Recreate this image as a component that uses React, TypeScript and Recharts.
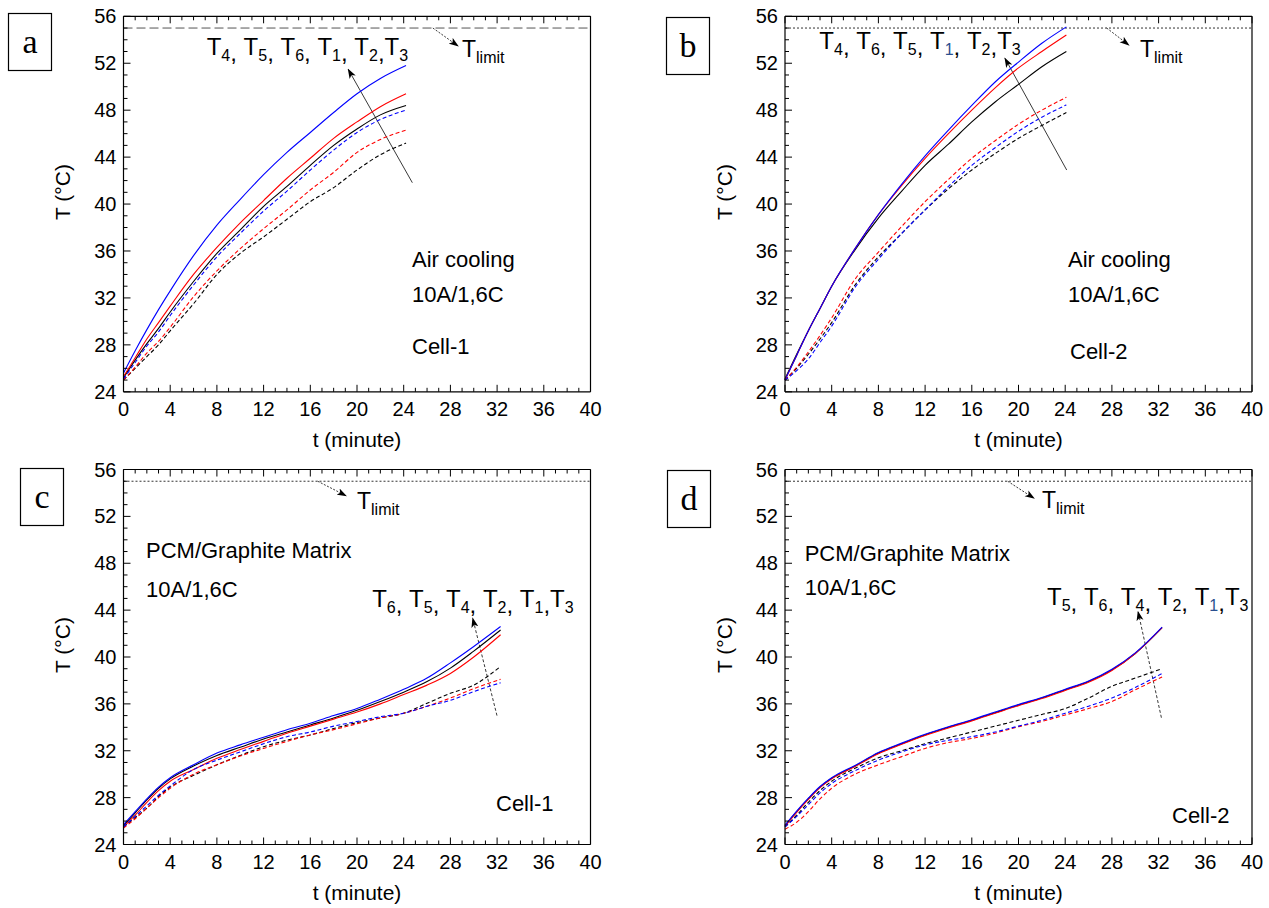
import React from 'react';
import { LineChart, Line, XAxis, YAxis, ReferenceLine } from 'recharts';

const FONT = "'Liberation Sans', Arial, Helvetica, sans-serif";
const SERIF = "'Liberation Serif', 'Times New Roman', serif";

// ---- axis ticks ----
const xTicks = Array.from({ length: 41 }, (_, i) => i);
const yTicks = Array.from({ length: 33 }, (_, i) => 24 + i);

// ---- Panel a: air cooling, cell-1 ----
const tA = [0, 1, 2, 3, 4, 6, 8, 10, 12, 14, 16, 18, 20, 22, 24.2];
const aT1 = [25.2, 26.7, 28.1, 29.4, 30.8, 33.4, 35.8, 37.8, 39.8, 41.5, 43.3, 45.0, 46.4, 47.6, 48.4];
const aT2 = [25.3, 26.9, 28.5, 29.9, 31.3, 34.0, 36.3, 38.4, 40.3, 42.2, 43.9, 45.6, 47.0, 48.3, 49.4];
const aT3 = [25.6, 27.5, 29.3, 31.0, 32.6, 35.6, 38.2, 40.4, 42.5, 44.4, 46.1, 47.8, 49.4, 50.7, 51.8];
const aT4 = [25.0, 26.0, 27.0, 28.0, 29.2, 31.5, 34.0, 35.8, 37.2, 38.7, 40.2, 41.4, 42.9, 44.2, 45.2];
const aT5 = [25.0, 26.1, 27.3, 28.3, 29.5, 32.1, 34.3, 36.2, 37.9, 39.5, 41.2, 42.7, 44.4, 45.5, 46.3];
const aT6 = [25.1, 26.5, 27.9, 29.1, 30.5, 33.1, 35.5, 37.5, 39.4, 41.1, 42.9, 44.6, 46.1, 47.2, 48.0];

// ---- Panel b: air cooling, cell-2 ----
const tB = [0, 1, 2, 3, 4, 6, 8, 10, 12, 14, 16, 18, 20, 22, 24.1];
const bT1 = [25.1, 27.2, 29.2, 31.1, 33.0, 36.1, 38.8, 41.1, 43.3, 45.1, 47.0, 48.7, 50.2, 51.7, 53.0];
const bT2 = [25.0, 27.1, 29.2, 31.1, 33.0, 36.2, 39.1, 41.6, 43.9, 46.0, 48.0, 49.9, 51.6, 53.0, 54.4];
const bT3 = [25.0, 27.1, 29.2, 31.1, 33.0, 36.2, 39.1, 41.7, 44.1, 46.3, 48.4, 50.4, 52.1, 53.7, 55.1];
const bT4 = [25.0, 26.0, 27.2, 28.5, 29.9, 33.1, 35.5, 37.5, 39.5, 41.3, 42.9, 44.3, 45.6, 46.7, 47.8];
const bT5 = [25.0, 26.1, 27.4, 28.8, 30.3, 33.6, 35.9, 38.1, 40.2, 42.1, 43.9, 45.4, 46.8, 48.0, 49.1];
const bT6 = [25.0, 25.8, 26.8, 28.2, 29.6, 32.9, 35.3, 37.5, 39.5, 41.5, 43.3, 44.8, 46.2, 47.4, 48.45];

// ---- Panel c: PCM/graphite, cell-1 ----
const tC = [0, 1, 2, 3, 4, 6, 8, 10, 12, 14, 16, 18, 20, 22, 24, 26, 28, 30, 32.3];
const cT1 = [25.6, 26.7, 27.8, 28.8, 29.6, 30.7, 31.6, 32.3, 33.0, 33.6, 34.2, 34.8, 35.45, 36.2, 37.0, 37.9, 39.05, 40.5, 42.3];
const cT2 = [25.5, 26.5, 27.6, 28.6, 29.4, 30.4, 31.35, 32.1, 32.8, 33.5, 34.1, 34.7, 35.3, 36.0, 36.8, 37.6, 38.6, 40.0, 41.9];
const cT3 = [25.7, 26.8, 27.9, 28.9, 29.7, 30.8, 31.8, 32.5, 33.15, 33.8, 34.35, 35.0, 35.6, 36.4, 37.25, 38.2, 39.5, 40.9, 42.6];
const cT4 = [25.5, 26.3, 27.1, 28.1, 28.9, 29.9, 30.8, 31.6, 32.35, 32.9, 33.35, 33.9, 34.4, 34.8, 35.2, 36.05, 36.9, 37.6, 39.2];
const cT5 = [25.4, 26.2, 27.1, 28.0, 28.8, 30.0, 30.8, 31.55, 32.2, 32.8, 33.35, 33.8, 34.3, 34.8, 35.2, 35.8, 36.5, 37.3, 38.1];
const cT6 = [25.5, 26.4, 27.3, 28.2, 29.0, 30.4, 31.2, 31.9, 32.6, 33.2, 33.6, 34.1, 34.5, 34.9, 35.2, 35.8, 36.3, 37.05, 37.8];

// ---- Panel d: PCM/graphite, cell-2 ----
const tD = [0, 1, 2, 3, 4, 6, 8, 10, 12, 14, 16, 18, 20, 22, 24, 26, 28, 30, 32.3];
const dT1 = [25.6, 26.8, 27.9, 28.9, 29.65, 30.7, 31.8, 32.6, 33.35, 34.0, 34.6, 35.25, 35.9, 36.5, 37.2, 37.9, 38.9, 40.3, 42.5];
const dT2 = [25.55, 26.75, 27.85, 28.85, 29.6, 30.65, 31.75, 32.55, 33.3, 33.95, 34.55, 35.2, 35.85, 36.45, 37.15, 37.85, 38.85, 40.3, 42.5];
const dT3 = [25.65, 26.85, 27.95, 28.95, 29.7, 30.75, 31.85, 32.65, 33.4, 34.05, 34.65, 35.3, 35.95, 36.55, 37.25, 37.95, 38.95, 40.35, 42.55];
const dT4 = [25.5, 26.5, 27.6, 28.6, 29.4, 30.5, 31.4, 32.0, 32.6, 33.1, 33.6, 34.1, 34.6, 35.1, 35.6, 36.5, 37.5, 38.2, 39.0];
const dT5 = [25.3, 25.9, 26.8, 27.9, 28.8, 30.0, 30.8, 31.5, 32.2, 32.7, 33.05, 33.5, 34.05, 34.5, 35.05, 35.6, 36.2, 37.2, 38.3];
const dT6 = [25.5, 26.4, 27.4, 28.4, 29.2, 30.3, 31.2, 31.9, 32.5, 32.9, 33.2, 33.6, 34.1, 34.6, 35.2, 35.8, 36.5, 37.4, 38.6];

const T_LIMIT = 55;

function buildRows(t: number[], s: number[][]) {
  return t.map((tv, i) => ({
    t: tv,
    T1: s[0][i], T2: s[1][i], T3: s[2][i], T4: s[3][i], T5: s[4][i], T6: s[5][i],
  }));
}

const seriesStyle = [
  { key: 'T1', color: '#000000', dash: undefined },
  { key: 'T2', color: '#ff0000', dash: undefined },
  { key: 'T3', color: '#0000ff', dash: undefined },
  { key: 'T4', color: '#000000', dash: '4 2.5' },
  { key: 'T5', color: '#ff0000', dash: '4 2.5' },
  { key: 'T6', color: '#0000ff', dash: '4 2.5' },
];

// ---- custom inward ticks ----
const BottomTick = (p: any) => {
  const v = p.payload.value;
  const major = v % 4 === 0;
  return (
    <g>
      <line x1={p.x} y1={p.y} x2={p.x} y2={p.y - (major ? 7 : 4)} stroke="#000" strokeWidth={1} />
      {major && (
        <text x={p.x} y={p.y + 24.5} textAnchor="middle" fontSize={20} fontFamily={FONT} fill="#000">{v}</text>
      )}
    </g>
  );
};
const TopTick = (p: any) => {
  const v = p.payload.value;
  const major = v % 4 === 0;
  return <line x1={p.x} y1={p.y} x2={p.x} y2={p.y + (major ? 7 : 4)} stroke="#000" strokeWidth={1} />;
};
const LeftTick = (p: any) => {
  const v = p.payload.value;
  const major = v % 4 === 0;
  return (
    <g>
      <line x1={p.x} y1={p.y} x2={p.x + (major ? 7 : 4)} y2={p.y} stroke="#000" strokeWidth={1} />
      {major && (
        <text x={p.x - 7} y={p.y + 7} textAnchor="end" fontSize={20} fontFamily={FONT} fill="#000">{v}</text>
      )}
    </g>
  );
};
const RightTick = (p: any) => {
  const v = p.payload.value;
  const major = v % 4 === 0;
  return <line x1={p.x} y1={p.y} x2={p.x - (major ? 7 : 4)} y2={p.y} stroke="#000" strokeWidth={1} />;
};

type Seg = [[number, number], [number, number]];

// plot box given as page-relative rectangle inside a 634x454 chart; axes are 1px thick bands
function Panel(props: {
  left: number; top: number; plot: { l: number; t: number; r: number; b: number }; rows: any[];
  limitDash: string; limitColor: string; limitArrow: Seg; listArrow: Seg; arrowDash?: string;
}) {
  const { left, top, plot, rows, limitDash, limitColor, limitArrow, listArrow, arrowDash } = props;
  const margin = { left: plot.l - 1, top: plot.t - 1, right: 634 - plot.r - 1, bottom: 454 - plot.b - 1 };
  return (
    <div style={{ position: 'absolute', left, top }}>
      <LineChart width={634} height={454} data={rows} margin={margin}>
        <XAxis xAxisId="b" dataKey="t" type="number" domain={[0, 40]} ticks={xTicks} interval={0}
          orientation="bottom" height={1} tickSize={0} tickMargin={0} tickLine={false}
          axisLine={{ stroke: '#000', strokeWidth: 1.2 }} tick={(p: any) => <BottomTick {...p} />} />
        <XAxis xAxisId="t" dataKey="t" type="number" domain={[0, 40]} ticks={xTicks} interval={0}
          orientation="top" height={1} tickSize={0} tickMargin={0} tickLine={false}
          axisLine={{ stroke: '#000', strokeWidth: 1.2 }} tick={(p: any) => <TopTick {...p} />} />
        <YAxis yAxisId="l" type="number" domain={[24, 56]} ticks={yTicks} interval={0}
          orientation="left" width={1} tickSize={0} tickMargin={0} tickLine={false}
          axisLine={{ stroke: '#000', strokeWidth: 1.2 }} tick={(p: any) => <LeftTick {...p} />} />
        <YAxis yAxisId="r" type="number" domain={[24, 56]} ticks={yTicks} interval={0}
          orientation="right" width={1} tickSize={0} tickMargin={0} tickLine={false}
          axisLine={{ stroke: '#000', strokeWidth: 1.2 }} tick={(p: any) => <RightTick {...p} />} />
        <ReferenceLine xAxisId="b" yAxisId="l" y={T_LIMIT} stroke={limitColor} strokeWidth={1}
          strokeDasharray={limitDash} />
        <ReferenceLine xAxisId="b" yAxisId="l"
          segment={[{ x: limitArrow[0][0], y: limitArrow[0][1] }, { x: limitArrow[1][0], y: limitArrow[1][1] }]}
          stroke="#222" strokeWidth={0.9} strokeDasharray="2 1.5" markerEnd="url(#arrowHead)" />
        <ReferenceLine xAxisId="b" yAxisId="l"
          segment={[{ x: listArrow[0][0], y: listArrow[0][1] }, { x: listArrow[1][0], y: listArrow[1][1] }]}
          stroke="#222" strokeWidth={0.9} strokeDasharray={arrowDash} markerEnd="url(#arrowHead)" />
        {seriesStyle.map((s) => (
          <Line key={s.key} xAxisId="b" yAxisId="l" type="monotone" dataKey={s.key} stroke={s.color}
            strokeWidth={1.1} strokeDasharray={s.dash} dot={false} activeDot={false}
            isAnimationActive={false} />
        ))}
      </LineChart>
    </div>
  );
}

// text with subscripts: each part = [main, subscript digits, subscript tail(main size), sub colour]
function SubText(props: { x: number; y: number; parts: any[]; size: number; sub: number; dy: number }) {
  const { x, y, parts, size, sub, dy } = props;
  const nodes: any[] = [];
  parts.forEach((pt: any[], i: number) => {
    const [main, s, tail, subColor] = pt;
    nodes.push(<tspan key={'m' + i} dy={i === 0 ? 0 : -dy}>{main}</tspan>);
    nodes.push(<tspan key={'s' + i} dy={dy} fontSize={sub} fill={subColor || '#000'}>{s}</tspan>);
    if (tail) nodes.push(<tspan key={'c' + i}>{tail}</tspan>);
  });
  return <text x={x} y={y} fontSize={size} fontFamily={FONT} fill="#000">{nodes}</text>;
}

const NB = '\u00a0';

export default function App() {
  const pA = { l: 123.5, t: 16.3, r: 590.5, b: 391.8 };
  const pB = { l: 151, t: 16.3, r: 618, b: 391.8 };
  const pC = { l: 123.5, t: 15.5, r: 590.5, b: 390.5 };
  const pD = { l: 151, t: 15.5, r: 618, b: 390.5 };
  const txt = { fontFamily: FONT, fontSize: 22, fill: '#000' } as any;
  const axT = { fontFamily: FONT, fontSize: 21, fill: '#000' } as any;
  return (
    <div style={{ position: 'absolute', left: 0, top: 0, width: 1269, height: 908, background: '#fff', overflow: 'hidden' }}>
      <svg width={0} height={0} style={{ position: 'absolute' }}>
        <defs>
          <marker id="arrowHead" markerWidth={10} markerHeight={8} refX={9} refY={4} orient="auto" markerUnits="userSpaceOnUse">
            <path d="M0,0.5 L10,4 L0,7.5 L2.5,4 z" fill="#000" />
          </marker>
        </defs>
      </svg>
      <Panel left={0} top={0} plot={pA} rows={buildRows(tA, [aT1, aT2, aT3, aT4, aT5, aT6])}
        limitDash="9 4" limitColor="#555" limitArrow={[[26.5, 55], [28.65, 53.47]]}
        listArrow={[[24.74, 41.82], [19.25, 51.48]]} />
      <Panel left={634} top={0} plot={pB} rows={buildRows(tB, [bT1, bT2, bT3, bT4, bT5, bT6])}
        limitDash="2 2" limitColor="#333" limitArrow={[[27.55, 55], [29.45, 53.55]]}
        listArrow={[[24.13, 42.9], [18.84, 52.42]]} />
      <Panel left={0} top={454} plot={pC} rows={buildRows(tC, [cT1, cT2, cT3, cT4, cT5, cT6])}
        limitDash="2 2" limitColor="#333" limitArrow={[[16.63, 55], [19.06, 53.76]]}
        listArrow={[[31.99, 35.0], [29.91, 43.3]]} arrowDash="3 2" />
      <Panel left={634} top={454} plot={pD} rows={buildRows(tD, [dT1, dT2, dT3, dT4, dT5, dT6])}
        limitDash="2 2" limitColor="#333" limitArrow={[[19.07, 55], [21.33, 53.54]]}
        listArrow={[[32.24, 34.82], [30.24, 43.87]]} arrowDash="3 2" />

      <svg width={1269} height={908} style={{ position: 'absolute', left: 0, top: 0, pointerEvents: 'none' }}>
        {/* panel letters */}
        <rect x={8.5} y={13.5} width={43} height={57} fill="none" stroke="#000" strokeWidth={1.2} />
        <text x={30} y={53} textAnchor="middle" fontFamily={SERIF} fontSize={34}>a</text>
        <rect x={666.5} y={17.5} width={43} height={57} fill="none" stroke="#000" strokeWidth={1.2} />
        <text x={688} y={57} textAnchor="middle" fontFamily={SERIF} fontSize={34}>b</text>
        <rect x={20.5} y={468.5} width={43} height={57} fill="none" stroke="#000" strokeWidth={1.2} />
        <text x={42} y={508} textAnchor="middle" fontFamily={SERIF} fontSize={34}>c</text>
        <rect x={667.5} y={470.5} width={43} height={57} fill="none" stroke="#000" strokeWidth={1.2} />
        <text x={689} y={510} textAnchor="middle" fontFamily={SERIF} fontSize={34}>d</text>

        {/* axis titles */}
        <text x={357} y={447} textAnchor="middle" {...axT}>t (minute)</text>
        <text x={1018.5} y={447} textAnchor="middle" {...axT}>t (minute)</text>
        <text x={357} y={899.5} textAnchor="middle" {...axT}>t (minute)</text>
        <text x={1018.5} y={899.5} textAnchor="middle" {...axT}>t (minute)</text>
        <text transform="translate(70,192) rotate(-90)" textAnchor="middle" {...axT}>T (°C)</text>
        <text transform="translate(731.5,192) rotate(-90)" textAnchor="middle" {...axT}>T (°C)</text>
        <text transform="translate(70,645) rotate(-90)" textAnchor="middle" {...axT}>T (°C)</text>
        <text transform="translate(731.5,645) rotate(-90)" textAnchor="middle" {...axT}>T (°C)</text>

        {/* panel a annotations */}
        <SubText x={206.7} y={55} size={24} sub={16} dy={6}
          parts={[['T', '4', ','], [NB + 'T', '5', ','], [NB + 'T', '6', ','], [NB + 'T', '1', ','], [NB + 'T', '2', ','], ['T', '3']]} />
        <SubText x={462} y={56.5} size={23} sub={16} dy={6} parts={[['T', 'limit']]} />
        <text x={412} y={267} {...txt}>Air cooling</text>
        <text x={412} y={302} {...txt}>10A/1,6C</text>
        <text x={412} y={354} {...txt}>Cell-1</text>

        {/* panel b annotations */}
        <SubText x={819.3} y={49.3} size={24} sub={16} dy={6}
          parts={[['T', '4', ','], [NB + 'T', '6', ','], [NB + 'T', '5', ','], [NB + 'T', '1', ',', '#2a4f8f'], [NB + 'T', '2', ','], ['T', '3']]} />
        <SubText x={1140} y={56.5} size={23} sub={16} dy={6} parts={[['T', 'limit']]} />
        <text x={1068} y={267} {...txt}>Air cooling</text>
        <text x={1068} y={302} {...txt}>10A/1,6C</text>
        <text x={1070} y={359} {...txt}>Cell-2</text>

        {/* panel c annotations */}
        <SubText x={357} y={509.3} size={23} sub={16} dy={6} parts={[['T', 'limit']]} />
        <text x={146} y={558.3} {...txt}>PCM/Graphite Matrix</text>
        <text x={146} y={597} {...txt}>10A/1,6C</text>
        <SubText x={372.2} y={607.3} size={24} sub={16} dy={6}
          parts={[['T', '6', ','], [NB + 'T', '5', ','], [NB + 'T', '4', ','], [NB + 'T', '2', ','], [NB + 'T', '1', ','], ['T', '3']]} />
        <text x={496} y={810.7} {...txt}>Cell-1</text>

        {/* panel d annotations */}
        <SubText x={1042} y={508.3} size={23} sub={16} dy={6} parts={[['T', 'limit']]} />
        <text x={804.7} y={561} {...txt}>PCM/Graphite Matrix</text>
        <text x={804.7} y={595} {...txt}>10A/1,6C</text>
        <SubText x={1047} y={605} size={24} sub={16} dy={6}
          parts={[['T', '5', ','], [NB + 'T', '6', ','], [NB + 'T', '4', ','], [NB + 'T', '2', ','], [NB + 'T', '1', ',', '#2a4f8f'], ['T', '3']]} />
        <text x={1172} y={822.7} {...txt}>Cell-2</text>
      </svg>
    </div>
  );
}
